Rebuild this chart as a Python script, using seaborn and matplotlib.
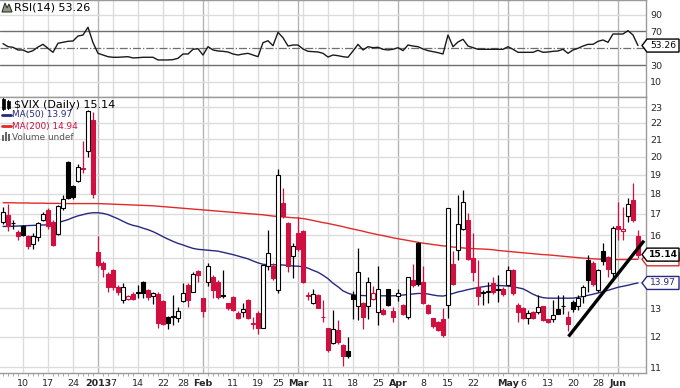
import numpy as np
import pandas as pd
import matplotlib
matplotlib.use("Agg")
import matplotlib.pyplot as plt
import matplotlib.ticker as mticker
from matplotlib.patches import Polygon, Rectangle
from matplotlib.lines import Line2D
import seaborn as sns

# ------------------------------------------------------------
# data ($VIX daily, Dec 4 2012 - Jun 7 2013)
# ------------------------------------------------------------
first_day = "2012-12-04"
last_day = "2013-06-07"
holidays = ["2012-12-25", "2013-01-01", "2013-01-21", "2013-02-18",
            "2013-03-29", "2013-05-27"]
prev_close = 16.95

open_ = [16.6, 16.95, 16.58, 16.15, 16.4, 15.95, 15.6, 15.9, 16.7, 17.2,
         16.6, 16.05, 17.3, 19.7, 18.4, 18.67, 19.3, 20.3, 22.2, 15.25,
         14.8, 14.35, 14.5, 13.82, 13.3, 13.36, 13.55, 13.63, 14.0, 13.7,
         13.47, 13.55, 13.28, 12.7, 12.68, 12.65, 13.28, 13.9, 13.63, 14.46,
         13.38, 14.02, 14.2, 14.0, 13.49, 13.2, 13.42, 12.84, 12.88, 13.32,
         12.45, 12.84, 12.31, 14.67, 14.67, 13.7, 17.55, 16.57, 15.07, 16.12,
         16.2, 13.5, 13.19, 13.5, 12.7, 12.29, 11.78, 12.23, 11.72, 11.52,
         13.5, 13.08, 13.19, 13.1, 13.35, 12.85, 12.94, 13.73, 12.9, 13.45,
         13.13, 12.7, 14.09, 15.64, 14.02, 13.13, 12.64, 12.52, 12.6, 13.13,
         14.75, 15.34, 16.3, 16.68, 15.0, 13.82, 13.6, 13.63, 13.95, 13.72,
         13.74, 13.9, 14.5, 13.13, 13.0, 12.64, 12.88, 12.88, 13.08, 12.6,
         12.6, 12.97, 13.08, 12.7, 13.23, 13.07, 13.45, 14.92, 14.78, 13.7,
         15.28, 15.02, 14.36, 16.42, 16.2, 16.87, 17.7, 15.95]
high = [17.35, 17.5, 16.7, 16.25, 16.45, 16.0, 16.1, 16.6, 17.1, 17.3,
        16.7, 17.45, 17.95, 19.75, 18.45, 19.6, 20.9, 22.8, 22.7, 15.95,
        14.85, 14.4, 14.55, 13.9, 13.97, 13.5, 13.6, 13.9, 14.05, 13.75,
        13.6, 13.6, 13.3, 12.72, 13.5, 13.05, 13.97, 13.95, 14.4, 14.5,
        13.4, 14.8, 14.3, 14.1, 14.5, 13.2, 13.45, 12.9, 13.2, 13.35,
        12.7, 12.9, 14.7, 16.24, 14.8, 19.3, 18.27, 16.6, 15.66, 16.85,
        16.25, 13.63, 13.75, 13.55, 13.3, 12.3, 12.94, 12.58, 11.75, 12.0,
        13.65, 15.42, 13.25, 14.2, 13.85, 14.64, 13.0, 13.75, 13.05, 13.75,
        13.15, 14.22, 14.74, 15.7, 14.64, 13.15, 12.66, 12.55, 13.0, 17.27,
        15.3, 17.94, 18.2, 17.04, 16.1, 14.9, 13.7, 14.0, 14.2, 14.3,
        13.8, 14.64, 14.55, 13.2, 13.05, 12.95, 12.9, 13.5, 13.1, 12.6,
        13.3, 13.5, 13.5, 12.9, 13.3, 13.5, 13.9, 15.13, 14.85, 14.55,
        15.64, 15.1, 16.4, 17.6, 17.35, 17.8, 18.53, 16.24]
low = [16.5, 16.2, 16.3, 15.8, 15.95, 15.4, 15.4, 15.75, 16.65, 16.3,
       15.5, 16.0, 17.2, 17.75, 17.75, 18.6, 19.1, 20.0, 17.8, 14.6,
       14.2, 13.6, 13.7, 13.5, 13.2, 13.3, 13.3, 13.4, 13.4, 13.3,
       13.17, 12.28, 12.4, 12.25, 12.4, 12.5, 13.25, 13.05, 13.6, 14.0,
       12.7, 13.85, 13.38, 13.35, 13.4, 12.95, 12.9, 12.6, 12.7, 12.6,
       12.25, 12.1, 12.3, 14.5, 14.1, 13.57, 16.8, 14.43, 14.16, 15.3,
       13.95, 13.3, 13.15, 13.0, 12.5, 11.5, 11.75, 11.75, 11.05, 11.3,
       12.6, 12.58, 12.27, 12.6, 13.3, 12.4, 12.75, 13.1, 12.52, 13.27,
       12.75, 12.6, 13.8, 13.85, 13.15, 12.8, 12.3, 12.2, 12.0, 12.65,
       13.9, 14.92, 16.25, 14.9, 14.05, 13.13, 13.13, 13.2, 13.55, 13.25,
       13.45, 13.85, 13.5, 12.5, 12.6, 12.45, 12.6, 12.8, 12.55, 12.48,
       12.5, 12.8, 12.8, 12.2, 12.85, 12.95, 13.2, 13.6, 13.85, 13.6,
       14.7, 14.2, 14.2, 15.8, 15.79, 16.6, 16.6, 15.0]
close = [17.1, 16.4, 16.55, 15.95, 16.0, 15.5, 15.95, 16.55, 17.0, 16.4,
         15.55, 17.4, 17.72, 17.8, 17.85, 19.4, 19.35, 22.75, 18.0, 14.7,
         14.55, 13.83, 13.8, 13.6, 13.82, 13.46, 13.33, 13.56, 13.58, 13.42,
         13.57, 12.46, 12.43, 12.46, 12.7, 12.9, 13.57, 13.3, 14.33, 14.29,
         12.9, 14.67, 13.7, 13.42, 13.47, 13.0, 12.94, 12.64, 12.97, 12.66,
         12.47, 12.31, 14.68, 15.2, 14.16, 18.99, 16.9, 14.67, 15.52, 15.38,
         14.0, 13.48, 13.53, 13.03, 12.67, 11.56, 12.25, 11.8, 11.35, 11.36,
         13.35, 14.4, 12.7, 14.0, 13.57, 13.73, 12.8, 13.13, 12.7, 13.57,
         12.78, 14.2, 13.87, 13.92, 13.19, 12.84, 12.36, 12.24, 12.06, 17.27,
         13.92, 16.52, 17.57, 14.97, 14.4, 13.48, 13.59, 13.62, 13.6, 13.71,
         13.52, 14.49, 13.59, 12.85, 12.66, 12.83, 12.65, 13.05, 12.59, 12.52,
         12.77, 12.8, 13.07, 12.45, 12.98, 13.37, 13.82, 14.07, 13.92, 14.5,
         14.85, 14.53, 16.35, 16.3, 16.27, 17.5, 16.68, 15.14]
ma50 = [16.40, 16.40, 16.41, 16.42, 16.43, 16.44, 16.45, 16.46, 16.47, 16.47,
        16.50, 16.58, 16.65, 16.72, 16.82, 16.90, 16.96, 17.02, 17.05, 17.05,
        17.02, 16.96, 16.86, 16.76, 16.64, 16.53, 16.45, 16.40, 16.32, 16.25,
        16.16, 16.05, 15.93, 15.82, 15.72, 15.63, 15.56, 15.48, 15.41, 15.37,
        15.35, 15.33, 15.31, 15.29, 15.24, 15.19, 15.14, 15.08, 15.02, 14.96,
        14.87, 14.79, 14.73, 14.71, 14.71, 14.71, 14.70, 14.68, 14.66, 14.65,
        14.63, 14.57, 14.48, 14.40, 14.28, 14.14, 13.96, 13.82, 13.66, 13.57,
        13.51, 13.49, 13.48, 13.47, 13.47, 13.47, 13.47, 13.47, 13.47, 13.48,
        13.50, 13.52, 13.54, 13.56, 13.56, 13.54, 13.50, 13.47, 13.46, 13.50,
        13.56, 13.62, 13.66, 13.71, 13.75, 13.79, 13.82, 13.85, 13.87, 13.87,
        13.86, 13.85, 13.82, 13.78, 13.74, 13.64, 13.53, 13.45, 13.40, 13.38,
        13.38, 13.38, 13.38, 13.38, 13.38, 13.41, 13.45, 13.49, 13.53, 13.58,
        13.63, 13.68, 13.74, 13.80, 13.84, 13.88, 13.93, 13.97]
ma200 = [17.54, 17.54, 17.54, 17.53, 17.53, 17.53, 17.52, 17.52, 17.52, 17.51,
         17.51, 17.51, 17.50, 17.50, 17.50, 17.50, 17.50, 17.50, 17.50, 17.50,
         17.49, 17.48, 17.47, 17.46, 17.45, 17.44, 17.43, 17.42, 17.41, 17.40,
         17.39, 17.37, 17.35, 17.33, 17.31, 17.29, 17.27, 17.25, 17.23, 17.21,
         17.19, 17.17, 17.15, 17.13, 17.11, 17.09, 17.07, 17.05, 17.03, 17.01,
         16.99, 16.97, 16.95, 16.92, 16.89, 16.87, 16.85, 16.83, 16.81, 16.80,
         16.77, 16.73, 16.68, 16.63, 16.58, 16.54, 16.49, 16.44, 16.39, 16.33,
         16.28, 16.23, 16.18, 16.12, 16.07, 16.02, 15.98, 15.93, 15.88, 15.84,
         15.80, 15.76, 15.72, 15.68, 15.64, 15.61, 15.58, 15.55, 15.52, 15.50,
         15.47, 15.45, 15.43, 15.41, 15.40, 15.39, 15.38, 15.37, 15.35, 15.32,
         15.30, 15.28, 15.26, 15.24, 15.22, 15.20, 15.18, 15.16, 15.14, 15.13,
         15.11, 15.09, 15.07, 15.05, 15.03, 15.01, 14.99, 14.98, 14.96, 14.95,
         14.94, 14.93, 14.93, 14.93, 14.93, 14.93, 14.94, 14.94]
rsi = [55.5, 51.9, 51.2, 48.0, 48.0, 45.2, 47.2, 51.5, 54.7, 50.0,
       45.2, 56.0, 57.1, 58.3, 58.7, 64.6, 65.8, 75.0, 56.7, 44.0,
       42.0, 40.0, 39.3, 39.3, 39.6, 40.0, 38.5, 38.8, 39.3, 39.3,
       39.3, 36.1, 36.1, 36.1, 36.5, 38.1, 43.2, 43.2, 48.8, 49.5,
       42.0, 51.9, 48.0, 46.8, 46.4, 45.6, 43.2, 42.0, 43.2, 44.0,
       42.0, 40.0, 56.7, 59.0, 53.1, 69.0, 62.6, 52.7, 53.9, 53.9,
       49.2, 46.4, 46.0, 45.6, 44.0, 39.6, 42.0, 41.2, 40.0, 39.3,
       46.8, 54.7, 48.0, 51.9, 50.7, 51.2, 48.8, 48.0, 48.8, 50.7,
       47.2, 53.9, 52.7, 51.9, 49.2, 47.2, 46.0, 44.8, 43.2, 65.8,
       51.9, 57.5, 60.7, 52.7, 50.7, 48.8, 48.8, 48.8, 48.8, 48.8,
       48.8, 51.9, 48.8, 45.2, 45.2, 45.2, 45.2, 47.6, 45.2, 45.6,
       46.4, 46.8, 48.8, 44.0, 48.0, 50.0, 52.7, 54.7, 54.7, 58.3,
       59.9, 57.1, 67.0, 67.0, 67.0, 71.0, 65.8, 53.26]

# hand drawn trend line (trading-day index, price)
trend_x = [113.1, 128.2]
trend_y = [12.0, 15.75]

price_ticks = [11, 12, 13, 14, 15, 16, 17, 18, 19, 20, 21, 22, 23]
rsi_ticks = [10, 30, 50, 70, 90]
# labels hidden behind the value tags on the right edge
hidden_price = [14, 15]
hidden_rsi = [50]

tick_dates = ["2012-12-10", "2012-12-17", "2012-12-24", "2013-01-02", "2013-01-07",
              "2013-01-14", "2013-01-22", "2013-01-28", "2013-02-01", "2013-02-11",
              "2013-02-19", "2013-02-25", "2013-03-01", "2013-03-11", "2013-03-18",
              "2013-03-25", "2013-04-01", "2013-04-08", "2013-04-15", "2013-04-22",
              "2013-05-01", "2013-05-06", "2013-05-13", "2013-05-20", "2013-05-28",
              "2013-06-03"]
tick_labels = ["10", "17", "24", "2013", "7", "14", "22", "28", "Feb", "11", "19", "25",
               "Mar", "11", "18", "25", "Apr", "8", "15", "22", "May", "6", "13", "20",
               "28", "Jun"]
month_labels = ["2013", "Feb", "Mar", "Apr", "May", "Jun"]
unlabeled_weeks = ["2013-02-04", "2013-03-04", "2013-04-29"]

# ------------------------------------------------------------
sns.set_style("white")
plt.rcParams["font.family"] = ["DejaVu Sans"]

RED = "#cf1040"
NAVY = "#27297f"
MA_RED = "#e02a2a"
GRID = "#dcdcdc"
MONTH_GRID = "#b4b4b4"
SPINE = "#9a9a9a"
TICK_FS = 6.8

days = pd.bdate_range(first_day, last_day)
days = days[~days.isin(pd.to_datetime(holidays))]
pos = {d: i for i, d in enumerate(days)}

df = pd.DataFrame({"x": np.arange(len(days)), "open": open_, "high": high,
                   "low": low, "close": close, "ma50": ma50, "ma200": ma200,
                   "rsi": rsi})
df["prev"] = df["close"].shift(1).fillna(prev_close)

W, H = 680, 388
fig = plt.figure(figsize=(W / 100, H / 100), dpi=100)


def fx(px):
    return px / W


def fy(py):
    return 1 - py / H


ax_rsi = fig.add_axes([0, fy(97), fx(646), 97 / H])
ax = fig.add_axes([0, fy(373), fx(646), 276 / H])

# vertical grid (weekly, darker at month starts)
for a in (ax, ax_rsi):
    for d, lab in zip(tick_dates, tick_labels):
        a.axvline(pos[pd.Timestamp(d)], color=MONTH_GRID if lab in month_labels else GRID,
                  lw=1.0, zorder=0)
    for d in unlabeled_weeks:
        a.axvline(pos[pd.Timestamp(d)], color=GRID, lw=1.0, zorder=0)
    a.set_xlim(-0.6, 128.6)
    for s in ("top", "right", "bottom"):
        a.spines[s].set_color(SPINE)
        a.spines[s].set_linewidth(1.0)
    a.spines["left"].set_visible(False)

# ---------------- RSI panel ----------------
for v in (10, 90):
    ax_rsi.axhline(v, color=GRID, lw=1.0, zorder=0)
for v in (30, 70):
    ax_rsi.axhline(v, color="#6e6e6e", lw=1.0, zorder=1)
ax_rsi.axhline(50, color="#6e6e6e", lw=0.9, ls="-.", zorder=1)
sns.lineplot(data=df, x="x", y="rsi", ax=ax_rsi, color="#1a1a1a", lw=1.0, zorder=3)
ax_rsi.set_ylim(-8, 107.5)
ax_rsi.set_xlabel("")
ax_rsi.set_ylabel("")
ax_rsi.set_xticks([])
ax_rsi.yaxis.tick_right()
ax_rsi.set_yticks(rsi_ticks)
ax_rsi.set_yticklabels(["" if t in hidden_rsi else str(t) for t in rsi_ticks])
ax_rsi.tick_params(axis="y", length=0, pad=3, labelsize=TICK_FS)

# ---------------- price panel ----------------
ax.set_yscale("log")
for v in price_ticks:
    ax.axhline(v, color=GRID, lw=1.0, zorder=0)

sns.lineplot(data=df, x="x", y="ma200", ax=ax, color=MA_RED, lw=1.0, zorder=2)
sns.lineplot(data=df, x="x", y="ma50", ax=ax, color=NAVY, lw=1.0, zorder=2)

col = np.where(df["close"] < df["prev"], RED, "black")
filled = (df["close"] < df["open"]).values
face = np.where(filled, col, "white")
ax.vlines(df["x"], df["low"], df["high"], colors=col, lw=0.9, zorder=3)
bot = np.minimum(df["open"], df["close"])
hgt = np.maximum(np.abs(df["close"] - df["open"]), 0.03)
ax.bar(df["x"], hgt, bottom=bot, width=0.72, color=face, edgecolor=col,
       linewidth=0.8, zorder=4)

ax.plot(trend_x, trend_y, color="black", lw=2.4, solid_capstyle="butt", zorder=6)

ax.set_ylim(10.82, 23.68)
ax.set_xlabel("")
ax.set_ylabel("")
ax.yaxis.tick_right()
ax.set_yticks(price_ticks)
ax.set_yticklabels(["" if t in hidden_price else str(t) for t in price_ticks])
ax.yaxis.set_minor_locator(mticker.NullLocator())
ax.tick_params(axis="y", which="both", length=0, pad=3, labelsize=TICK_FS)

ax.set_xticks([pos[pd.Timestamp(d)] for d in tick_dates])
ax.set_xticklabels(tick_labels)
for lab in ax.get_xticklabels():
    if lab.get_text() in month_labels:
        lab.set_fontweight("bold")
ax.set_xticks(df["x"], minor=True)
ax.tick_params(axis="x", which="major", length=0, pad=4, labelsize=TICK_FS)
ax.tick_params(axis="x", which="minor", length=2, color=SPINE, bottom=True)


# ---------------- value tags on the right ----------------
def tag(a, val, text, color, bold=False, z=5):
    _, ypx = a.transData.transform((0, val))
    yc = H - ypx
    pts = [(642, yc), (647, yc - 6.5), (679, yc - 6.5), (679, yc + 6.5), (647, yc + 6.5)]
    fig.add_artist(Polygon([(fx(px), fy(py)) for px, py in pts], closed=True,
                           transform=fig.transFigure, fc="white", ec=color, lw=1.0,
                           zorder=z))
    fig.text(fx(663), fy(yc), text, ha="center", va="center", fontsize=6.6,
             color=color, fontweight="bold" if bold else "normal", zorder=z + 0.5)


tag(ax_rsi, rsi[-1], f"{rsi[-1]:.2f}", "black", z=5)
tag(ax, ma50[-1], f"{ma50[-1]:.2f}", NAVY, z=5)
tag(ax, ma200[-1], f"{ma200[-1]:.2f}", MA_RED, z=5)
tag(ax, close[-1], f"{close[-1]:.2f}", "black", bold=True, z=7)

# ---------------- legends (top-left) ----------------
fig.add_artist(Polygon([(fx(p), fy(q)) for p, q in
                        [(2, 12), (5, 3), (7, 8), (9, 4), (12, 12)]],
                       closed=True, transform=fig.transFigure, fc="#8a9a7a",
                       ec="#333333", lw=0.8))
fig.text(fx(14), fy(7.5), f"RSI(14) {rsi[-1]:.2f}", ha="left", va="center",
         fontsize=8, color="black")

for bx, b0, b1 in [(3, 99, 109), (8, 101, 108)]:
    fig.add_artist(Line2D([fx(bx), fx(bx)], [fy(b0 - 1), fy(b1 + 1)],
                          transform=fig.transFigure, color="black", lw=0.8))
    fig.add_artist(Rectangle((fx(bx - 1.5), fy(b1)), 3 / W, (b1 - b0) / H,
                             transform=fig.transFigure, fc="black", ec="black", lw=0.5))
fig.text(fx(14), fy(104.5), "\\$VIX (Daily) 15.14", ha="left", va="center",
         fontsize=8, color="black")

fig.add_artist(Line2D([fx(2), fx(11)], [fy(115), fy(115)], transform=fig.transFigure,
                      color=NAVY, lw=2.0))
fig.text(fx(12.5), fy(115), f"MA(50) {ma50[-1]:.2f}", ha="left", va="center",
         fontsize=6.4, color=NAVY)
fig.add_artist(Line2D([fx(2), fx(11)], [fy(126), fy(126)], transform=fig.transFigure,
                      color=MA_RED, lw=2.0))
fig.text(fx(12.5), fy(126), f"MA(200) {ma200[-1]:.2f}", ha="left", va="center",
         fontsize=6.4, color=RED)
for bx, bh in [(2, 6), (5, 9), (8, 7)]:
    fig.add_artist(Rectangle((fx(bx), fy(141)), 2 / W, bh / H,
                             transform=fig.transFigure, fc="#666666", ec="none"))
fig.text(fx(12.5), fy(137), "Volume undef", ha="left", va="center", fontsize=6.4,
         color="#555555")

fig.savefig("out.png", dpi=100)
